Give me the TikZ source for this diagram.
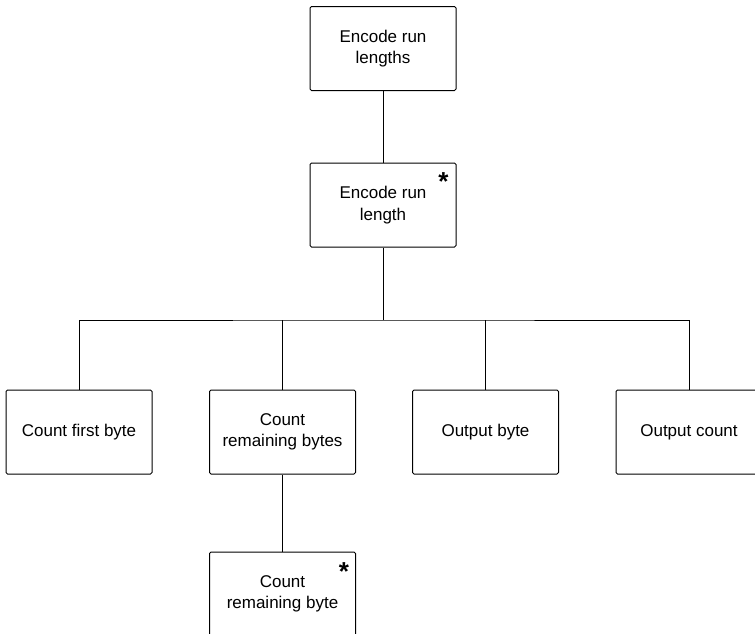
\documentclass[tikz,border=0pt]{standalone}
\usepackage{fontspec}
\setmainfont{Liberation Sans}
\begin{document}
\begin{tikzpicture}[x=1pt,y=-1pt,
  box/.style={draw, line width=1pt, rounded corners=1.5pt, minimum width=146pt,
    minimum height=84pt, align=center, inner sep=0pt,
    font=\fontsize{17}{21.5}\selectfont},
  link/.style={draw, line width=1pt},
  rep/.style={font=\fontsize{26}{26}\selectfont\bfseries, inner sep=0pt}]
\useasboundingbox (0,0) rectangle (755,633);
\begin{scope}
\clip (0,0) rectangle (755,633);
\node[box] (runs) at (383,48.5) {Encode run\\lengths};
\node[box] (run) at (383,205) {Encode run\\length};
\node[box] (first) at (79,432) {\raisebox{-1.5pt}{Count first byte}};
\node[box] (remain) at (282.5,432) {Count\\remaining bytes};
\node[box] (outbyte) at (485.5,432) {\raisebox{-1.5pt}{Output byte}};
\node[box] (outcount) at (689,432) {\raisebox{-1.5pt}{Output count}};
\node[box] (rbyte) at (282.5,594) {Count\\remaining byte};
\coordinate (bar) at (383,320);
\end{scope}
\node[rep] (star1) at ([xshift=-13pt,yshift=-19pt]run.north east) {*};
\node[rep] (star2) at ([xshift=-12pt,yshift=-20pt]rbyte.north east) {*};
\draw[link] (runs.south) -- (run.north);
\draw[link] (run.south) -- (bar);
\draw[link] (first.north) |- (bar) -| (outcount.north);
\draw[link] (remain.north) -- (remain.north |- bar);
\draw[link] (outbyte.north) -- (outbyte.north |- bar);
\draw[link] (remain.south) -- (rbyte.north);
\end{tikzpicture}
\end{document}
